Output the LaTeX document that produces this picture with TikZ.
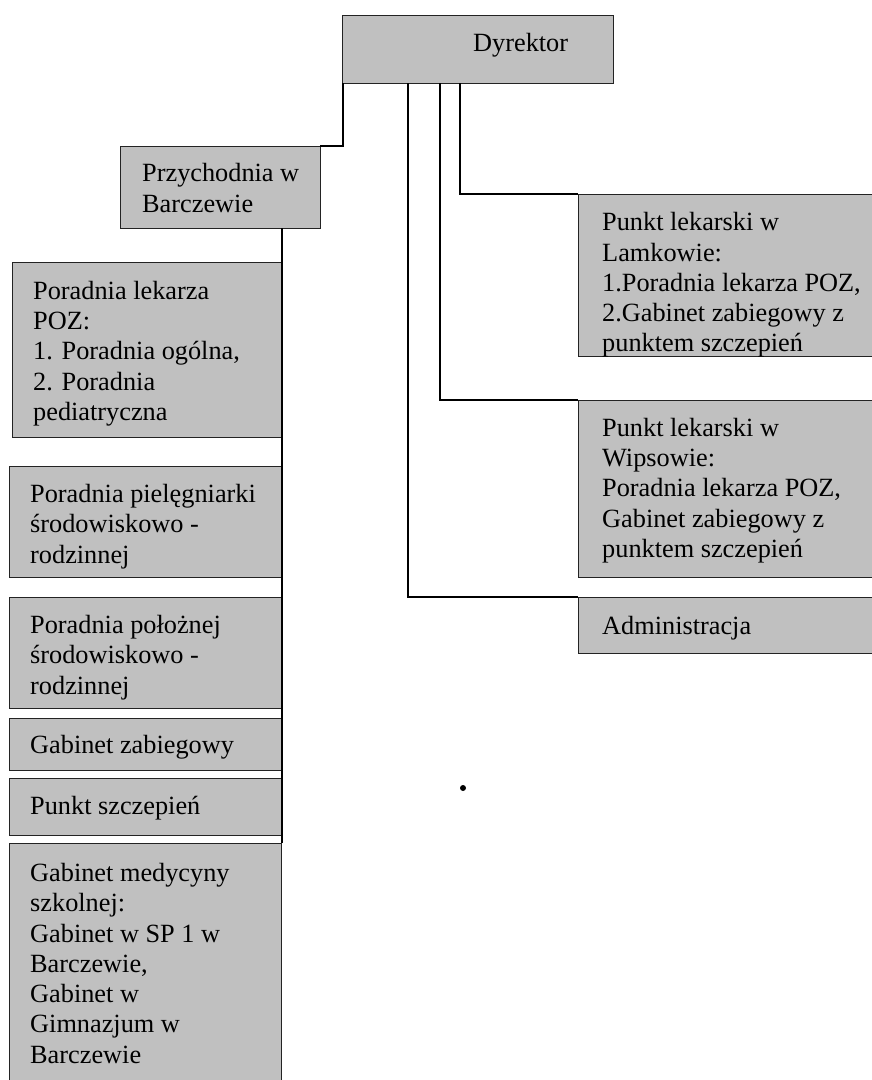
\documentclass[tikz,border=0pt]{standalone}
\usepackage{fontspec}
\setmainfont{Liberation Serif}
\definecolor{boxgray}{RGB}{192,192,192}
\definecolor{edgegray}{RGB}{35,35,35}
\tikzset{
  orgbox/.style={draw=edgegray, line width=1pt, fill=boxgray, anchor=north west, inner sep=0pt, outer sep=0pt},
  txt/.style={anchor=west, align=left, inner sep=0pt, font=\fontsize{26.3}{30.3}\selectfont},
  conn/.style={line width=1.6pt, black}
}
\newcommand\orgbox[5]{\node[orgbox, minimum width=#4pt, minimum height=#5pt] (#1) at (#2,#3) {};}
\begin{document}
\begin{tikzpicture}[x=1pt,y=-1pt]
\useasboundingbox (0,0) rectangle (872,1080);
% boxes
\orgbox{dyr}{342}{15}{271}{68}
\orgbox{przy}{120}{146}{200}{82}
\orgbox{poz}{12}{262}{270}{175}
\orgbox{piel}{9}{466}{272}{111}
\orgbox{poloz}{9}{597}{272}{111}
\orgbox{zab}{9}{718}{272}{52}
\orgbox{szcz}{9}{778}{272}{57}
\orgbox{med}{9}{843}{272}{260}
\orgbox{lam}{578}{194}{300}{162}
\orgbox{wip}{578}{400}{300}{177}
\orgbox{adm}{578}{597}{300}{56}
% texts
\node[txt] (dyrt) at ([xshift=131pt,yshift=4pt]dyr.west) {Dyrektor};
\node[txt] (przyt) at ([xshift=22pt,yshift=-1pt]przy.west) {Przychodnia w\\Barczewie};
\node[txt] (pozt) at ([xshift=21pt,yshift=-4pt]poz.west) {Poradnia lekarza\\POZ:\\1. Poradnia ogólna,\\2. Poradnia\\pediatryczna};
\node[txt] (pielt) at ([xshift=21pt,yshift=-5pt]piel.west) {Poradnia pielęgniarki\\środowiskowo -\\rodzinnej};
\node[txt] (pozt2) at ([xshift=21pt,yshift=-5pt]poloz.west) {Poradnia położnej\\środowiskowo -\\rodzinnej};
\node[txt] (zabt) at ([xshift=21pt,yshift=-3pt]zab.west) {Gabinet zabiegowy};
\node[txt] (szczt) at ([xshift=21pt,yshift=-2pt]szcz.west) {Punkt szczepień};
\node[txt, anchor=north west] (medt) at ([xshift=21pt,yshift=-20pt]med.north west) {Gabinet medycyny\\szkolnej:\\Gabinet w SP 1 w\\Barczewie,\\Gabinet w\\Gimnazjum w\\Barczewie};
\begin{scope}
\clip (lam.north west) rectangle (lam.south east);
\node[txt] (lamt) at ([xshift=24pt,yshift=-10pt]lam.west) {Punkt lekarski w\\Lamkowie:\\1.Poradnia lekarza POZ,\\2.Gabinet zabiegowy z\\punktem szczepień};
\end{scope}
\node[txt] (wipt) at ([xshift=24pt,yshift=-2pt]wip.west) {Punkt lekarski w\\Wipsowie:\\Poradnia lekarza POZ,\\Gabinet zabiegowy z\\punktem szczepień};
\node[txt] (admt) at ([xshift=24pt,yshift=-3pt]adm.west) {Administracja};
% connectors
\draw[conn] ([xshift=1pt]dyr.south west) |- (przy.north east);
\draw[conn] ([xshift=118pt]dyr.south west) |- (lam.north west);
\draw[conn] ([xshift=98pt]dyr.south west) |- (wip.north west);
\draw[conn] ([xshift=66pt]dyr.south west) |- (adm.north west);
\coordinate (trunk) at ([xshift=162pt]przy.south west);
\draw[conn] (trunk) -- (trunk |- med.north);
% stray dot
\node[circle, fill=black, inner sep=0pt, minimum size=6pt] (dot) at (463,788) {};
\end{tikzpicture}
\end{document}
